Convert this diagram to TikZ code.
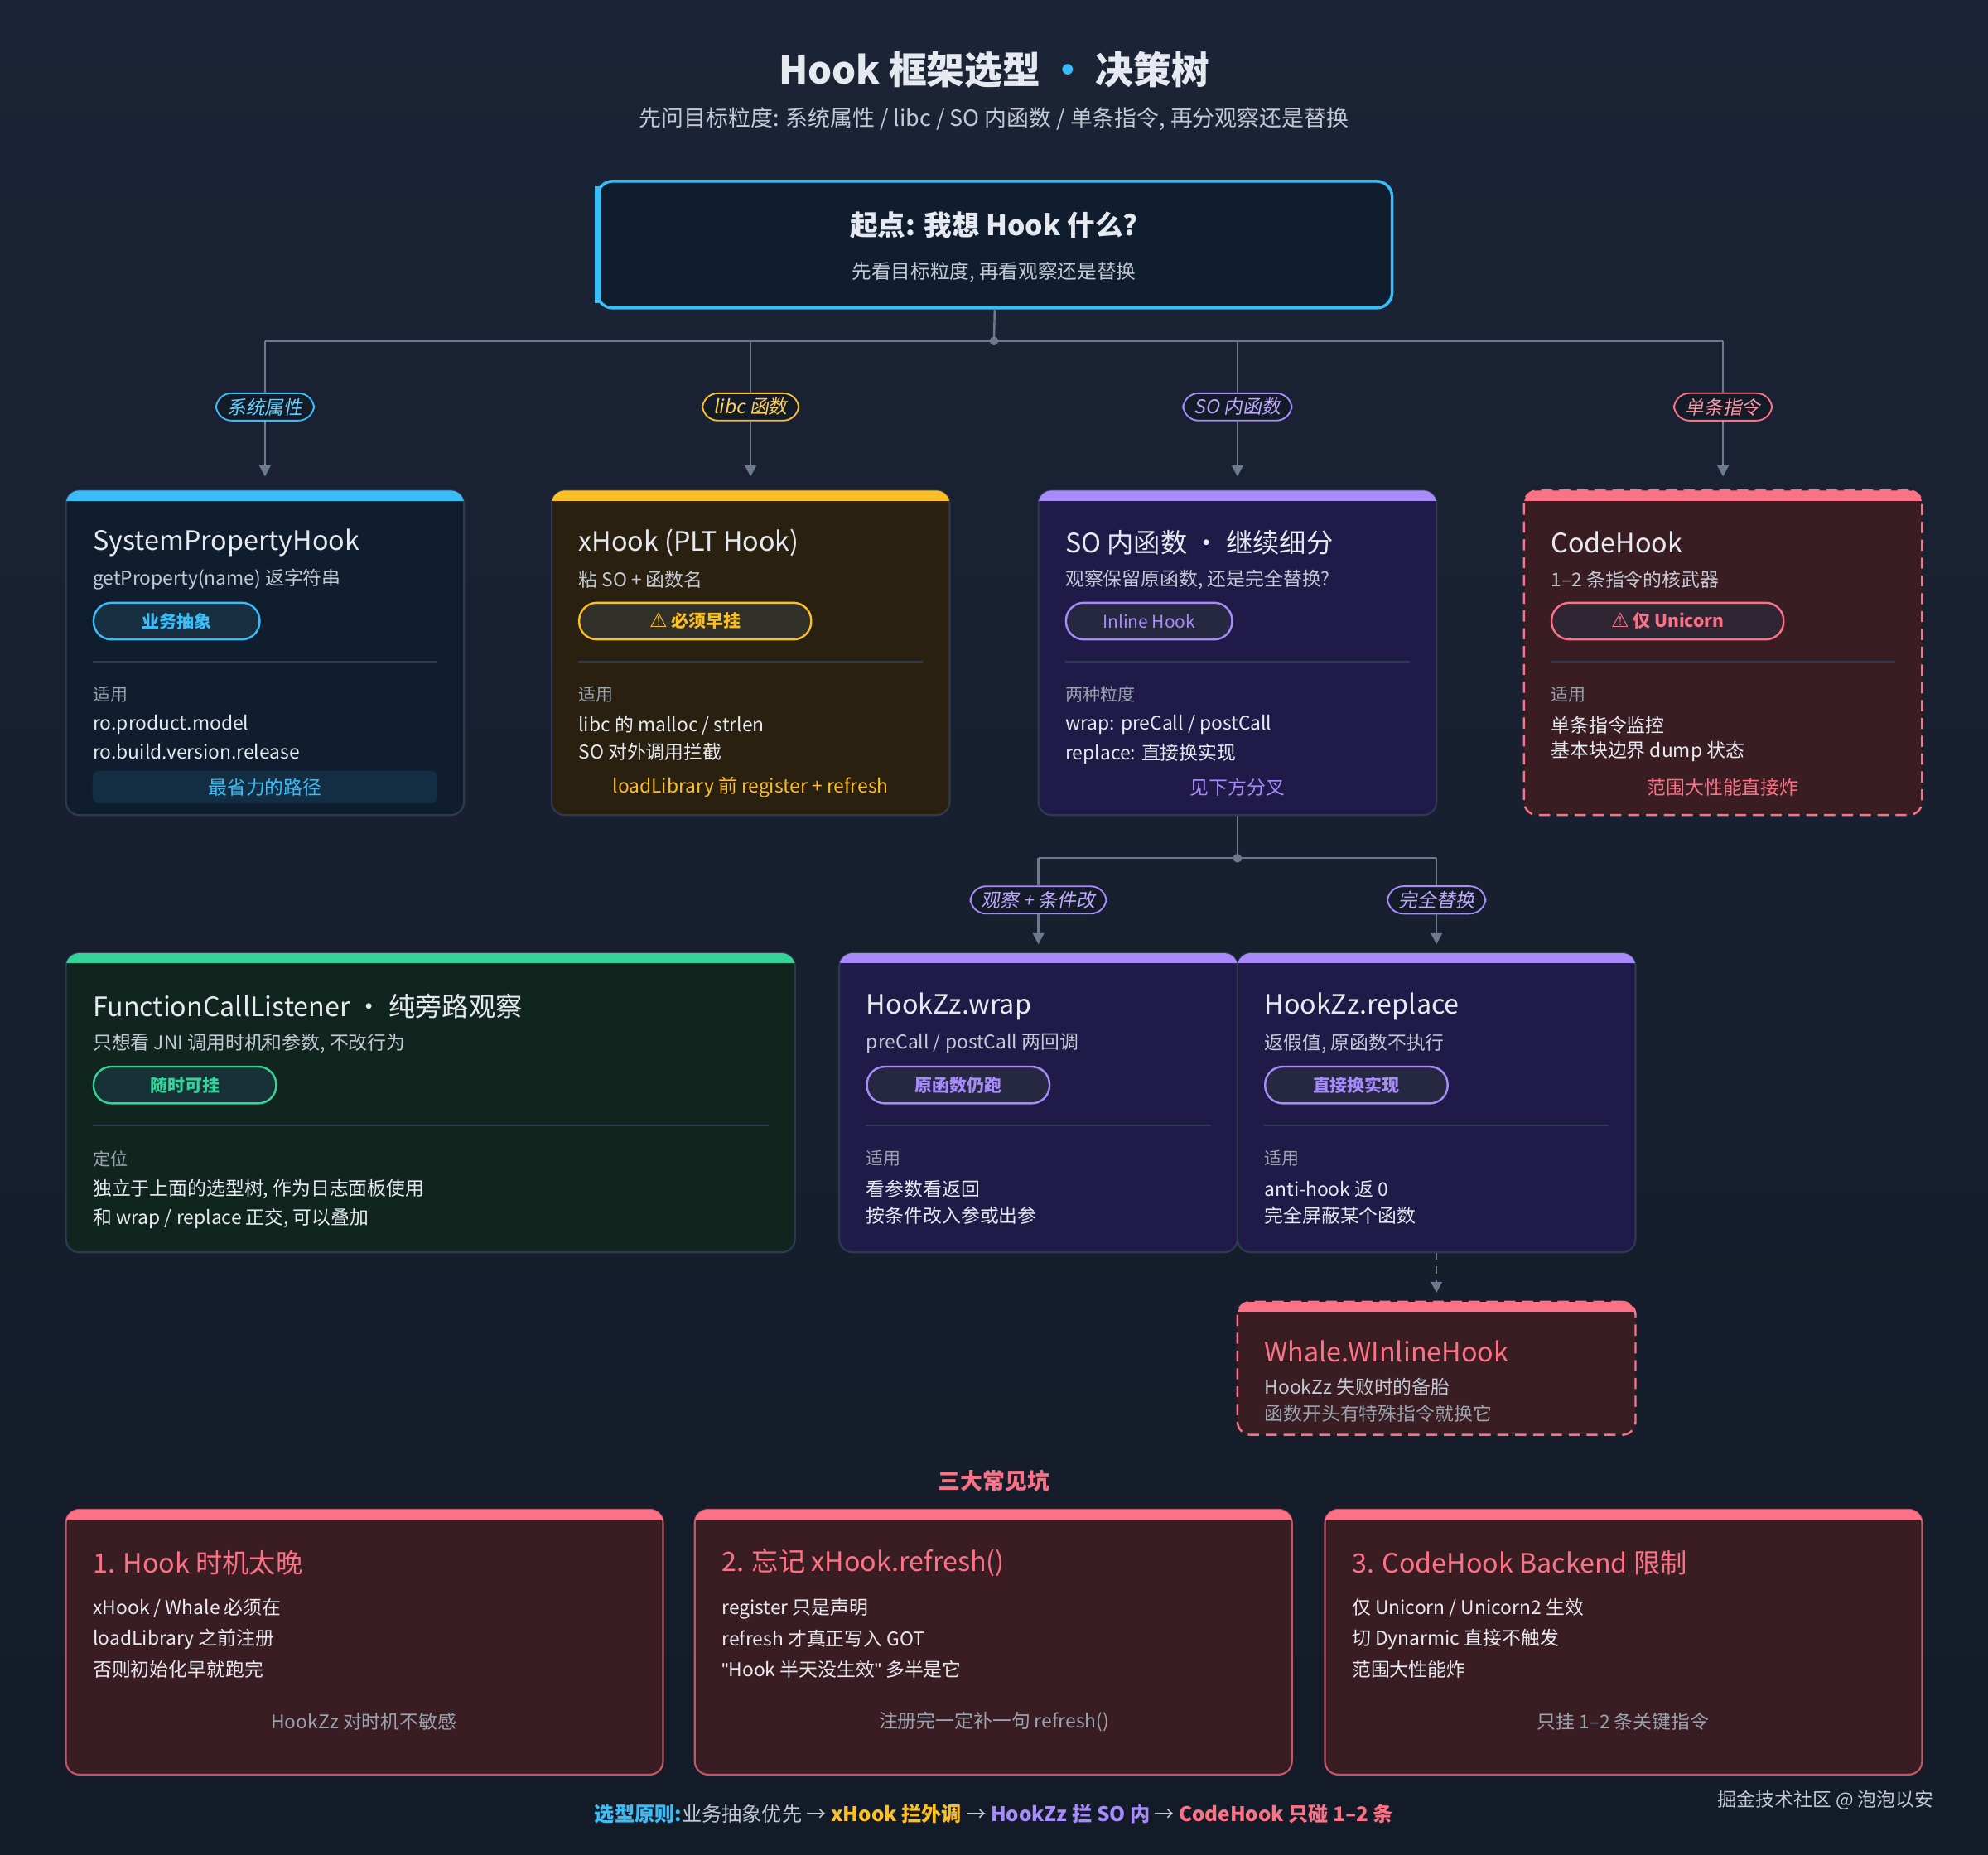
\documentclass[tikz,border=0pt]{standalone}
\usepackage{fontspec}
\setmainfont{Noto Sans CJK SC}
\newfontfamily\djv{DejaVu Sans}
\newfontfamily\lib{Liberation Sans}
\newfontfamily\slt[FakeSlant=0.18]{Noto Sans CJK SC}
\usetikzlibrary{arrows.meta}
\definecolor{bgA}{HTML}{1B2336}
\definecolor{bgB}{HTML}{141B28}
\definecolor{cBlue}{HTML}{38BDF8}
\definecolor{cYel}{HTML}{FBBF24}
\definecolor{cPur}{HTML}{A78BFA}
\definecolor{cRed}{HTML}{FB7185}
\definecolor{cGrn}{HTML}{34D399}
\definecolor{fBlue}{HTML}{0F1D2F}
\definecolor{fYel}{HTML}{2A2010}
\definecolor{fPur}{HTML}{1F1A48}
\definecolor{fRed}{HTML}{3A1D22}
\definecolor{fGrn}{HTML}{10251E}
\definecolor{edge}{HTML}{2E3A4F}
\definecolor{line}{HTML}{6B7A8D}
\definecolor{txt}{HTML}{E6EAF0}
\definecolor{sub}{HTML}{C3CAD5}
\definecolor{dimt}{HTML}{9AA3B0}
\newcommand\cardbox[8]{%
  \node[cardnode, fill=#6, #8, minimum width={(#4-#2)*0.02cm}, minimum height={(#5-#3)*0.02cm}] (#1) at ({(#2+#4)/2},{(#3+#5)/2}) {};
  \begin{scope}\clip[rounded corners=6pt] (#2,#3) rectangle (#4,#5);
  \fill[#7] (#2,#3) rectangle (#4,{#3+8});\end{scope}}
\tikzset{
  cardnode/.style={draw=edge, line width=0.8pt, rounded corners=6pt, inner sep=0},
  redash/.style={draw=cRed, dash pattern=on 5pt off 3pt, line width=0.9pt},
  ttl/.style={anchor=west, text=txt, font=\fontsize{12}{14}\selectfont, inner sep=0},
  sb/.style={anchor=west, text=sub, font=\fontsize{8.5}{10}\selectfont, inner sep=0},
  sec/.style={anchor=west, text=dimt, font=\fontsize{7.8}{9}\selectfont, inner sep=0},
  bd/.style={anchor=west, text=txt, font=\fontsize{8.5}{10}\selectfont, inner sep=0},
  ft/.style={text=#1, font=\fontsize{8.5}{10}\selectfont, inner sep=0},
  pill/.style={anchor=west, draw=#1, fill=#1!12!bgB, text=#1, line width=0.9pt, rounded corners=8pt,
     minimum width={131*0.02cm}, minimum height={29*0.02cm}, inner sep=0, font=\bfseries\fontsize{7.8}{9}\selectfont},
  tag/.style={draw=#1, fill=bgB, text=#1!75!white, rounded corners=7pt, inner xsep=5pt, inner ysep=2.2pt,
     line width=0.7pt, font=\slt\fontsize{8.5}{10}\selectfont},
  conn/.style={draw=line, line width=0.9pt},
  arr/.style={conn, -{Triangle[length=5pt,width=5pt]}},
  dv/.style={draw=edge, line width=0.7pt},
}
\begin{document}
\begin{tikzpicture}[x=0.02cm,y=-0.02cm]
\shade[top color=bgA, bottom color=bgB] (0,0) rectangle (1568,1463);
\useasboundingbox (0,0) rectangle (1568,1463);
% title
\node[text=txt, font=\bfseries\fontsize{17}{20}\selectfont] (title) at (784,55) {Hook 框架选型 \textcolor{cBlue}{·} 决策树};
\node[text=sub, font=\fontsize{10}{12}\selectfont] (subtitle) at (784,94) {先问目标粒度: 系统属性 / libc / SO 内函数 / 单条指令, 再分观察还是替换};
% start
\node[draw=cBlue, fill=fBlue, line width=1.3pt, rounded corners=7pt, minimum width={627*0.02cm}, minimum height={100*0.02cm}] (start) at (784.5,193) {};
\draw[cBlue, line width=3pt] (472,147) -- (472,239);
\node[text=txt, font=\bfseries\fontsize{12.5}{14}\selectfont] (startt) at (784,178) {起点: 我想 Hook 什么?};
\node[text=sub, font=\fontsize{8.8}{10}\selectfont] (starts) at (784,215) {先看目标粒度, 再看观察还是替换};
% tree 1
\coordinate (j0) at (784,269);
\coordinate (j1) at (209,269);\coordinate (j2) at (592,269);\coordinate (j3) at (976,269);\coordinate (j4) at (1359,269);
\draw[conn] (start.south) -- (j0);
\draw[conn] (j1) -- (j4);
\fill[line] (j0) circle (3.5);
\node[tag=cBlue] (l1) at (209,321) {系统属性};
\node[tag=cYel] (l2) at (592,321) {libc 函数};
\node[tag=cPur] (l3) at (976,321) {SO 内函数};
\node[tag=cRed] (l4) at (1359,321) {单条指令};
\foreach \i in {1,2,3,4}{\draw[conn] (j\i) -- (l\i.north);}
% cards row1
\cardbox{c1}{52}{387}{366}{643}{fBlue}{cBlue}{}
\cardbox{c2}{435}{387}{749}{643}{fYel}{cYel}{}
\cardbox{c3}{819}{387}{1133}{643}{fPur}{cPur}{}
\cardbox{c4}{1202}{387}{1516}{643}{fRed}{cRed}{redash}
\foreach \i in {1,2,3,4}{\draw[arr] (l\i.south) -- (c\i.north |- 0,376);}
% card1
\node[ttl] (c1t) at (73,428) {SystemPropertyHook};
\node[sb] (c1s) at (73,457) {getProperty(name) 返字符串};
\node[pill=cBlue] (c1p) at (73,490) {业务抽象};
\draw[dv] (73,522) -- (345,522);
\node[sec] (c1a) at (73,548) {适用};
\node[bd] (c1b) at (73,572) {ro.product.model};
\node[bd] (c1c) at (73,593) {ro.build.version.release};
\fill[cBlue!10!fBlue, rounded corners=3pt] (73,608) rectangle (345,634);
\node[ft=cBlue] (c1f) at (209,621) {最省力的路径};
% card2
\node[ttl] (c2t) at (456,428) {xHook (PLT Hook)};
\node[sb] (c2s) at (456,457) {粘 SO + 函数名};
\node[pill=cYel, minimum width={183*0.02cm}] (c2p) at (456,490) {{\djv\mdseries\small ⚠} 必须早挂};
\draw[dv] (456,522) -- (728,522);
\node[sec] (c2a) at (456,548) {适用};
\node[bd] (c2b) at (456,572) {libc 的 malloc / strlen};
\node[bd] (c2c) at (456,593) {SO 对外调用拦截};
\node[ft=cYel] (c2f) at (592,621) {loadLibrary 前 register + refresh};
% card3
\node[ttl] (c3t) at (840,428) {SO 内函数 · 继续细分};
\node[sb] (c3s) at (840,457) {观察保留原函数, 还是完全替换?};
\node[pill=cPur, font=\fontsize{7.8}{9}\selectfont] (c3p) at (840,490) {Inline Hook};
\draw[dv] (840,522) -- (1112,522);
\node[sec] (c3a) at (840,548) {两种粒度};
\node[bd] (c3b) at (840,572) {wrap: preCall / postCall};
\node[bd] (c3c) at (840,595) {replace: 直接换实现};
\node[ft=cPur] (c3f) at (976,621) {见下方分叉};
% card4
\node[ttl] (c4t) at (1223,428) {CodeHook};
\node[sb] (c4s) at (1223,457) {1–2 条指令的核武器};
\node[pill=cRed, minimum width={183*0.02cm}] (c4p) at (1223,490) {{\djv\mdseries\small ⚠} 仅 Unicorn};
\draw[dv] (1223,522) -- (1495,522);
\node[sec] (c4a) at (1223,548) {适用};
\node[bd] (c4b) at (1223,572) {单条指令监控};
\node[bd] (c4c) at (1223,593) {基本块边界 dump 状态};
\node[ft=cRed] (c4f) at (1359,621) {范围大性能直接炸};
% tree 2
\coordinate (k0) at (976,677);\coordinate (k1) at (819,677);\coordinate (k2) at (1133,677);
\draw[conn] (c3.south) -- (k0);
\draw[conn] (k1) -- (k2);
\fill[line] (k0) circle (3.5);
\node[tag=cPur] (m1) at (819,710) {观察 + 条件改};
\node[tag=cPur] (m2) at (1133,710) {完全替换};
\draw[conn] (k1) -- (m1.north);
\draw[conn] (k2) -- (m2.north);
% row2 cards
\cardbox{g}{52}{752}{627}{988}{fGrn}{cGrn}{}
\cardbox{w}{662}{752}{976}{988}{fPur}{cPur}{}
\cardbox{r}{976}{752}{1290}{988}{fPur}{cPur}{}
\draw[arr] (m1.south) -- (819,745);
\draw[arr] (m2.south) -- (1133,745);
% green
\node[ttl] (gt) at (73,794) {FunctionCallListener · 纯旁路观察};
\node[sb] (gs) at (73,823) {只想看 JNI 调用时机和参数, 不改行为};
\node[pill=cGrn, minimum width={144*0.02cm}] (gp) at (73,856) {随时可挂};
\draw[dv] (73,888) -- (606,888);
\node[sec] (ga) at (73,914) {定位};
\node[bd] (gb) at (73,938) {独立于上面的选型树, 作为日志面板使用};
\node[bd] (gc) at (73,961) {和 wrap / replace 正交, 可以叠加};
% wrap
\node[ttl] (wt) at (683,794) {HookZz.wrap};
\node[sb] (ws) at (683,823) {preCall / postCall 两回调};
\node[pill=cPur, minimum width={144*0.02cm}] (wp) at (683,856) {原函数仍跑};
\draw[dv] (683,888) -- (955,888);
\node[sec] (wa) at (683,914) {适用};
\node[bd] (wb) at (683,938) {看参数看返回};
\node[bd] (wc) at (683,959) {按条件改入参或出参};
% replace
\node[ttl] (rt) at (997,794) {HookZz.replace};
\node[sb] (rs) at (997,823) {返假值, 原函数不执行};
\node[pill=cPur, minimum width={144*0.02cm}] (rp) at (997,856) {直接换实现};
\draw[dv] (997,888) -- (1269,888);
\node[sec] (ra) at (997,914) {适用};
\node[bd] (rb) at (997,938) {anti-hook 返 0};
\node[bd] (rc) at (997,959) {完全屏蔽某个函数};
% whale
\cardbox{wh}{976}{1027}{1290}{1132}{fRed}{cRed}{redash}
\draw[arr, dash pattern=on 3pt off 3pt] (r.south) -- (1133,1020);
\node[ttl, text=cRed] (wht) at (997,1066) {Whale.WInlineHook};
\node[sb] (whs) at (997,1094) {HookZz 失败时的备胎};
\node[sb, text=dimt] (whc) at (997,1115) {函数开头有特殊指令就换它};
% pitfalls
\node[text=cRed, font=\bfseries\fontsize{10}{12}\selectfont] (pit) at (784,1168) {三大常见坑};
\cardbox{p1}{52}{1191}{523}{1400}{fRed}{cRed}{draw=cRed!70!fRed}
\cardbox{p2}{548}{1191}{1019}{1400}{fRed}{cRed}{draw=cRed!70!fRed}
\cardbox{p3}{1045}{1191}{1516}{1400}{fRed}{cRed}{draw=cRed!70!fRed}
\node[ttl, text=cRed] (p1t) at (73,1233) {1. Hook 时机太晚};
\node[bd] (p1a) at (73,1269) {xHook / Whale 必须在};
\node[bd] (p1b) at (73,1293) {loadLibrary 之前注册};
\node[bd] (p1c) at (73,1317) {否则初始化早就跑完};
\node[ft=dimt] (p1f) at (287,1358) {HookZz 对时机不敏感};
\node[ttl, text=cRed] (p2t) at (569,1233) {2. 忘记 xHook.refresh()};
\node[bd] (p2a) at (569,1269) {register 只是声明};
\node[bd] (p2b) at (569,1293) {refresh 才真正写入 GOT};
\node[bd] (p2c) at (569,1317) {{\lib\symbol{34}}Hook 半天没生效{\lib\symbol{34}} 多半是它};
\node[ft=dimt] (p2f) at (784,1358) {注册完一定补一句 refresh()};
\node[ttl, text=cRed] (p3t) at (1066,1233) {3. CodeHook Backend 限制};
\node[bd] (p3a) at (1066,1269) {仅 Unicorn / Unicorn2 生效};
\node[bd] (p3b) at (1066,1293) {切 Dynarmic 直接不触发};
\node[bd] (p3c) at (1066,1317) {范围大性能炸};
\node[ft=dimt] (p3f) at (1280,1358) {只挂 1–2 条关键指令};
% footer
\node[font=\fontsize{9}{11}\selectfont, text=sub] (foot) at (784,1431) {\textcolor{cBlue}{\bfseries 选型原则:}业务抽象优先 → \textcolor{cYel}{\bfseries xHook 拦外调} → \textcolor{cPur}{\bfseries HookZz 拦 SO 内} → \textcolor{cRed}{\bfseries CodeHook 只碰 1–2 条}};
\node[font=\fontsize{8.5}{10}\selectfont, text=sub] (wm) at (1440,1420) {掘金技术社区 @ 泡泡以安};
\end{tikzpicture}
\end{document}
